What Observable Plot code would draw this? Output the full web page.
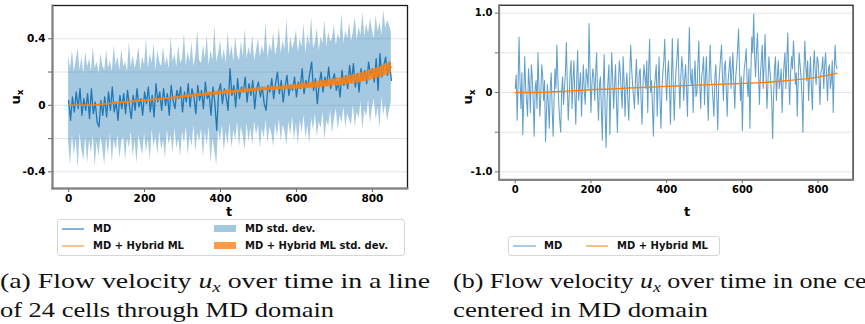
<!DOCTYPE html>
<html><head><meta charset="utf-8">
<script src="https://cdn.jsdelivr.net/npm/d3@7"></script>
<script src="https://cdn.jsdelivr.net/npm/@observablehq/plot@0.6"></script>
<style>
body{margin:0;width:865px;height:324px;overflow:hidden;position:relative;background:#fff;font-family:"DejaVu Sans";}
#a{position:absolute;left:0;top:0;}
#b{position:absolute;left:430px;top:0;}
.leg{position:absolute;border:1px solid #d6d6d6;border-radius:3px;background:#fff;font:bold 10px "DejaVu Sans";color:#111;}
.leg span{position:absolute;white-space:nowrap;line-height:12px;}
.sw{position:absolute;}
.lab{position:absolute;font:bold 13px "DejaVu Sans";line-height:13px;color:#000;white-space:nowrap;transform:translate(-50%,-50%);}
.lab.rot{transform:translate(-50%,-50%) rotate(-90deg);}
.lab sub{font-size:9px;line-height:9px;}
#cap{position:absolute;left:0;top:254px;}
</style></head><body>
<div id="a"></div><div id="b"></div>
<script>
const stepMD = 5, stepHyb = 10, stepHybB = 50, stepB = 2.5;
// Panel (a): MD mean over the line of cells
const mdMeanA = [
0.03,-0.09,0.05,-0.04,0.08,-0.02,0.10,-0.06,0.04,-0.03,
0.07,-0.08,0.10,-0.05,0.02,-0.10,-0.13,0.03,-0.06,0.05,
-0.07,0.08,-0.03,0.11,-0.04,0.02,-0.09,0.06,-0.02,0.07,
-0.05,0.09,0.00,-0.08,0.06,-0.03,0.10,-0.01,0.04,-0.06,
0.08,0.01,0.11,-0.04,0.06,-0.07,0.13,0.02,0.08,-0.03,
0.10,0.00,0.07,-0.06,0.12,0.03,-0.02,0.09,0.04,0.11,
-0.04,0.08,0.02,0.13,-0.01,0.10,0.05,-0.05,0.12,0.03,
0.09,-0.02,0.14,0.04,0.07,-0.06,0.11,0.02,-0.15,0.08,
0.13,0.01,0.10,0.05,-0.03,0.22,0.06,0.12,-0.01,0.16,
0.04,0.11,0.08,0.17,0.02,0.13,0.06,0.15,-0.02,0.10,
0.14,0.05,0.11,0.01,-0.03,0.12,0.08,0.16,0.04,0.13,
0.20,0.07,0.15,0.02,0.11,0.18,0.06,0.12,0.09,0.17,
0.05,0.14,0.10,0.22,0.07,0.15,0.11,0.19,0.26,0.09,
0.16,0.01,0.13,0.20,0.08,0.17,0.12,0.23,0.10,0.15,
0.19,0.09,0.14,0.05,0.21,0.12,0.18,0.10,0.24,0.14,
0.25,0.11,0.19,0.08,0.22,0.15,0.21,0.13,0.26,0.18,
0.22,0.14,0.28,0.09,0.31,0.17,0.24,0.29,0.18,0.26,
0.15];
// MD std. dev. band edges
const mdHighA = [
0.30,0.22,0.33,0.20,0.27,0.34,0.21,0.29,0.19,0.32,
0.23,0.28,0.20,0.35,0.22,0.26,0.19,0.31,0.24,0.21,
0.33,0.22,0.27,0.20,0.36,0.24,0.29,0.21,0.34,0.23,
0.26,0.20,0.38,0.23,0.30,0.22,0.27,0.35,0.21,0.29,
0.24,0.40,0.22,0.31,0.25,0.37,0.21,0.33,0.26,0.23,
0.35,0.24,0.29,0.22,0.41,0.26,0.31,0.23,0.36,0.25,
0.28,0.43,0.24,0.32,0.26,0.38,0.23,0.30,0.45,0.27,
0.25,0.36,0.28,0.42,0.24,0.33,0.27,0.48,0.26,0.31,
0.39,0.27,0.34,0.25,0.44,0.29,0.36,0.26,0.41,0.30,
0.27,0.38,0.29,0.46,0.28,0.35,0.30,0.42,0.27,0.33,
0.40,0.29,0.36,0.31,0.50,0.28,0.37,0.32,0.44,0.30,
0.35,0.47,0.31,0.39,0.33,0.52,0.30,0.41,0.34,0.38,
0.45,0.32,0.40,0.35,0.49,0.31,0.43,0.36,0.53,0.34,
0.38,0.46,0.33,0.41,0.37,0.51,0.35,0.44,0.38,0.40,
0.48,0.36,0.43,0.39,0.55,0.37,0.45,0.40,0.50,0.38,
0.44,0.53,0.39,0.47,0.42,0.56,0.41,0.49,0.43,0.52,
0.45,0.40,0.54,0.44,0.50,0.42,0.57,0.46,0.51,0.48,
0.44];
const mdLowA = [
-0.22,-0.36,-0.18,-0.30,-0.20,-0.38,-0.17,-0.27,-0.33,-0.19,
-0.35,-0.21,-0.29,-0.18,-0.37,-0.22,-0.31,-0.19,-0.26,-0.36,
-0.20,-0.30,-0.17,-0.34,-0.21,-0.27,-0.18,-0.32,-0.22,-0.19,
-0.33,-0.20,-0.26,-0.16,-0.31,-0.21,-0.35,-0.18,-0.24,-0.30,
-0.17,-0.28,-0.20,-0.33,-0.15,-0.25,-0.19,-0.30,-0.16,-0.27,
-0.21,-0.32,-0.15,-0.24,-0.18,-0.29,-0.14,-0.26,-0.20,-0.31,
-0.16,-0.23,-0.13,-0.30,-0.18,-0.25,-0.12,-0.28,-0.17,-0.22,
-0.14,-0.31,-0.16,-0.24,-0.13,-0.35,-0.20,-0.27,-0.36,-0.15,
-0.22,-0.12,-0.28,-0.16,-0.24,-0.11,-0.26,-0.15,-0.21,-0.10,
-0.25,-0.13,-0.19,-0.27,-0.11,-0.22,-0.14,-0.24,-0.10,-0.18,
-0.12,-0.26,-0.14,-0.20,-0.09,-0.23,-0.13,-0.17,-0.25,-0.11,
-0.19,-0.08,-0.22,-0.12,-0.16,-0.24,-0.10,-0.18,-0.07,-0.21,
-0.11,-0.24,-0.09,-0.17,-0.06,-0.20,-0.12,-0.23,-0.08,-0.15,
-0.05,-0.19,-0.10,-0.14,-0.04,-0.21,-0.09,-0.13,-0.03,-0.17,
-0.08,-0.02,-0.15,-0.06,-0.11,-0.01,-0.14,-0.05,-0.09,-0.12,
0.00,-0.13,-0.04,-0.08,0.02,-0.15,-0.03,-0.07,0.03,-0.11,
-0.02,0.04,-0.09,-0.01,-0.14,0.05,-0.06,0.01,-0.10,-0.03,
0.02];
// MD + Hybrid ML (panel a): mean and std. dev.
const hybMeanA = [
0.000,0.000,0.000,0.000,0.000,0.000,0.001,0.003,0.005,0.007,
0.009,0.011,0.013,0.015,0.017,0.019,0.021,0.023,0.025,0.027,
0.029,0.031,0.033,0.035,0.037,0.040,0.042,0.044,0.047,0.049,
0.052,0.054,0.057,0.059,0.061,0.064,0.066,0.068,0.071,0.073,
0.075,0.077,0.079,0.081,0.083,0.085,0.087,0.089,0.091,0.093,
0.095,0.097,0.099,0.100,0.102,0.103,0.105,0.107,0.108,0.110,
0.112,0.114,0.116,0.118,0.120,0.122,0.125,0.128,0.131,0.134,
0.137,0.140,0.144,0.148,0.152,0.156,0.161,0.166,0.172,0.178,
0.185,0.192,0.200,0.209,0.219,0.230];
const hybStdA = [
0.001,0.001,0.001,0.001,0.001,0.002,0.001,0.002,0.001,0.002,
0.002,0.002,0.003,0.002,0.004,0.002,0.003,0.005,0.003,0.003,
0.004,0.003,0.005,0.003,0.004,0.006,0.004,0.005,0.008,0.004,
0.006,0.010,0.005,0.007,0.011,0.005,0.008,0.013,0.006,0.014,
0.007,0.010,0.016,0.007,0.011,0.008,0.014,0.008,0.012,0.009,
0.010,0.008,0.013,0.009,0.015,0.009,0.011,0.014,0.010,0.017,
0.012,0.016,0.020,0.014,0.022,0.017,0.024,0.019,0.021,0.023,
0.020,0.025,0.022,0.027,0.024,0.029,0.025,0.031,0.027,0.033,
0.030,0.034,0.031,0.036,0.033,0.035];
// Panel (b): one cell
const mdB = [
0.05,0.22,-0.35,0.10,0.70,0.15,-0.20,0.25,-0.53,-0.05,0.45,0.05,-0.10,-0.30,0.30,0.10,-0.25,0.35,0.20,-0.10,
-0.55,0.05,0.15,-0.20,0.50,0.10,-0.30,-0.05,0.35,0.20,-0.10,0.15,-0.62,-0.25,0.10,-0.15,-0.45,0.05,0.25,-0.20,
-0.55,-0.10,0.30,0.05,0.60,0.20,-0.15,-0.35,-0.50,0.00,0.20,-0.15,0.05,0.25,0.63,0.10,-0.35,-0.05,0.25,0.40,
-0.20,0.15,0.40,-0.05,-0.40,0.20,0.53,-0.10,0.10,0.25,-0.30,0.05,0.35,0.00,-0.15,0.30,0.20,0.05,0.87,0.30,
-0.25,0.10,0.30,0.20,-0.10,0.25,0.50,-0.05,-0.35,0.10,0.20,-0.20,-0.60,0.10,0.48,-0.25,-0.69,-0.10,0.15,0.35,
-0.53,0.05,0.50,0.15,-0.20,0.10,0.35,-0.15,-0.50,0.10,0.40,0.25,0.00,-0.20,0.45,0.15,-0.30,0.05,0.25,-0.10,
-0.35,0.20,0.60,0.30,0.10,-0.05,-0.20,0.15,0.42,0.05,-0.15,0.25,0.30,-0.10,-0.40,0.10,0.35,0.20,0.05,0.40,
-0.25,0.30,0.67,0.00,0.15,-0.20,-0.55,0.05,0.20,0.35,-0.30,0.10,0.45,-0.10,-0.45,0.05,0.25,0.40,0.67,0.20,
-0.10,0.25,0.40,0.05,-0.40,0.15,0.68,0.10,-0.35,0.05,0.30,0.45,0.68,0.15,-0.20,0.20,0.45,0.30,-0.10,0.15,
0.35,0.05,-0.30,0.35,0.82,0.25,0.10,0.30,-0.25,0.15,0.40,-0.05,0.00,0.35,0.65,0.10,-0.20,0.20,0.30,0.45,
-0.15,0.20,0.45,0.00,-0.35,0.25,0.60,0.15,0.10,-0.10,-0.30,0.20,0.35,-0.05,-0.47,0.10,0.25,0.45,0.60,0.20,
-0.10,0.30,0.40,0.05,-0.30,0.15,0.30,0.45,0.05,0.25,0.50,0.10,-0.20,0.20,0.35,0.55,0.80,0.30,-0.10,0.20,
-0.48,0.05,0.30,0.40,0.55,0.15,-0.05,0.30,-0.45,0.25,0.70,0.50,0.99,0.45,0.20,0.55,0.75,0.30,-0.15,0.20,
0.40,0.60,0.05,0.35,0.73,0.25,-0.20,0.10,0.45,0.30,0.15,-0.10,-0.58,-0.05,0.30,0.45,-0.10,0.20,0.40,0.05,
0.15,0.30,-0.25,0.10,0.35,0.50,0.05,0.40,0.75,0.20,-0.15,0.25,0.45,0.30,0.65,0.40,0.10,0.25,-0.30,0.15,
0.50,0.35,0.20,-0.05,-0.50,0.25,0.65,0.35,0.15,0.40,-0.10,0.20,0.45,0.05,-0.22,0.30,0.53,0.25,0.10,0.45,
0.40,0.20,-0.15,0.25,0.30,0.45,0.05,0.35,0.50,0.20,-0.10,0.30,0.35,0.05,0.15,0.40,-0.25,0.25,0.60,0.35,
0.30];
const hybB = [0.000,0.000,0.010,0.020,0.035,0.045,0.057,0.067,0.077,0.087,0.097,0.105,0.115,0.125,0.142,0.165,0.195,0.245];

const xTicks = [0,200,400,600,800];
const yTicksA = [-0.4,-0.2,0,0.2,0.4];
const yLabelsA = ["-0.4","","0","","0.4"];
const yTicksB = [-1,-0.5,0,0.5,1];
const yLabelsB = ["-1.0","","0","","1.0"];

const A = mdMeanA.map((m,i)=>({t:i*stepMD, m, lo:mdLowA[i], hi:mdHighA[i]}));
const H = hybMeanA.map((m,i)=>({t:i*stepHyb, m, s:hybStdA[i]}));
const B = mdB.map((v,i)=>({t:i*stepB, v}));
const HB = hybB.map((v,i)=>({t:i*stepHybB, v}));

const style = {fontFamily:"DejaVu Sans", fontSize:"10.5px", fontWeight:"bold", color:"#000", background:"transparent", overflow:"visible"};

function frames() {
  return [
    Plot.frame({stroke:"#1a1a1a", strokeWidth:1.3}),
    Plot.frame({anchor:"left", stroke:"#808080", strokeWidth:2}),
    Plot.frame({anchor:"bottom", stroke:"#808080", strokeWidth:2})
  ];
}

const plotA = Plot.plot({
  width:420, height:215, marginLeft:52, marginRight:13, marginTop:5, marginBottom:27,
  x:{domain:[-42.5,892.5]}, y:{domain:[-0.5,0.6]},
  style,
  marks:[
    Plot.ruleY(yTicksA,{stroke:"#e4e4e4", strokeWidth:1}),
    Plot.areaY(A,{x:"t", y1:"lo", y2:"hi", fill:"#1f77b4", fillOpacity:0.4}),
    Plot.lineY(A,{x:"t", y:"m", stroke:"#1f77b4", strokeWidth:1.3}),
    Plot.areaY(H,{x:"t", y1:d=>d.m-d.s, y2:d=>d.m+d.s, fill:"#ff7f0e", fillOpacity:0.8}),
    Plot.lineY(H,{x:"t", y:"m", stroke:"#ff7f0e", strokeWidth:1.5}),
    Plot.axisX(xTicks,{tickSize:4, stroke:"#666", fill:"#000", tickPadding:2, label:null}),
    Plot.axisY(yTicksA,{tickSize:4, stroke:"#666", fill:"#000", tickPadding:3, label:null, tickFormat:d=>yLabelsA[yTicksA.indexOf(d)]}),
    ...frames()
  ]
});
document.getElementById("a").append(plotA);

const plotB = Plot.plot({
  width:456, height:215, marginLeft:72, marginRight:13, marginTop:5, marginBottom:27,
  x:{domain:[-42.5,892.5]}, y:{domain:[-1.1,1.1]},
  style,
  marks:[
    Plot.ruleY(yTicksB,{stroke:"#e4e4e4", strokeWidth:1}),
    Plot.lineY(B,{x:"t", y:"v", stroke:"#1f77b4", strokeOpacity:0.7, strokeWidth:1.1}),
    Plot.lineY(HB,{x:"t", y:"v", stroke:"#ff7f0e", strokeWidth:1.4, curve:"monotone-x"}),
    Plot.axisX(xTicks,{tickSize:4, stroke:"#666", fill:"#000", tickPadding:2, label:null}),
    Plot.axisY(yTicksB,{tickSize:4, stroke:"#666", fill:"#000", tickPadding:3, label:null, tickFormat:d=>yLabelsB[yTicksB.indexOf(d)]}),
    ...frames()
  ]
});
document.getElementById("b").append(plotB);
</script>

<div class="lab" style="left:229px;top:211px;">t</div>
<div class="lab rot" style="left:17px;top:97px;">u<sub>x</sub></div>
<div class="lab" style="left:687px;top:211px;">t</div>
<div class="lab rot" style="left:469px;top:97px;">u<sub>x</sub></div>

<div class="leg" style="left:57px;top:219px;width:346px;height:35px;">
  <div class="sw" style="left:4px;top:8px;width:22px;height:2px;background:#86b4d8;"></div>
  <span style="left:35px;top:3px;">MD</span>
  <div class="sw" style="left:4px;top:25px;width:22px;height:2px;background:#fdc18f;"></div>
  <span style="left:35px;top:20px;">MD + Hybrid ML</span>
  <div class="sw" style="left:156px;top:5px;width:22px;height:7px;background:#a5c8e1;"></div>
  <span style="left:187px;top:3px;">MD std. dev.</span>
  <div class="sw" style="left:156px;top:22px;width:22px;height:7px;background:#ff9a45;"></div>
  <span style="left:187px;top:20px;">MD + Hybrid ML std. dev.</span>
</div>

<div class="leg" style="left:508px;top:236px;width:210px;height:18px;">
  <div class="sw" style="left:4px;top:8px;width:23px;height:2px;background:#a9cbe3;"></div>
  <span style="left:35px;top:3px;">MD</span>
  <div class="sw" style="left:77px;top:8px;width:22px;height:2px;background:#fdbf8a;"></div>
  <span style="left:108px;top:3px;">MD + Hybrid ML</span>
</div>

<svg id="cap" width="865" height="70" font-family="'Liberation Serif', 'DejaVu Serif', serif" font-size="22" fill="#111">
  <text x="0" y="34" textLength="430" lengthAdjust="spacingAndGlyphs">(a) Flow velocity <tspan font-style="italic">u</tspan><tspan font-style="italic" font-size="15" dy="4">x</tspan><tspan dy="-4"> over time in a line</tspan></text>
  <text x="0" y="63" textLength="334" lengthAdjust="spacingAndGlyphs">of 24 cells through MD domain</text>
  <text x="453" y="34" textLength="428" lengthAdjust="spacingAndGlyphs">(b) Flow velocity <tspan font-style="italic">u</tspan><tspan font-style="italic" font-size="15" dy="4">x</tspan><tspan dy="-4"> over time in one cell</tspan></text>
  <text x="453" y="63" textLength="255" lengthAdjust="spacingAndGlyphs">centered in MD domain</text>
</svg>
</body></html>
